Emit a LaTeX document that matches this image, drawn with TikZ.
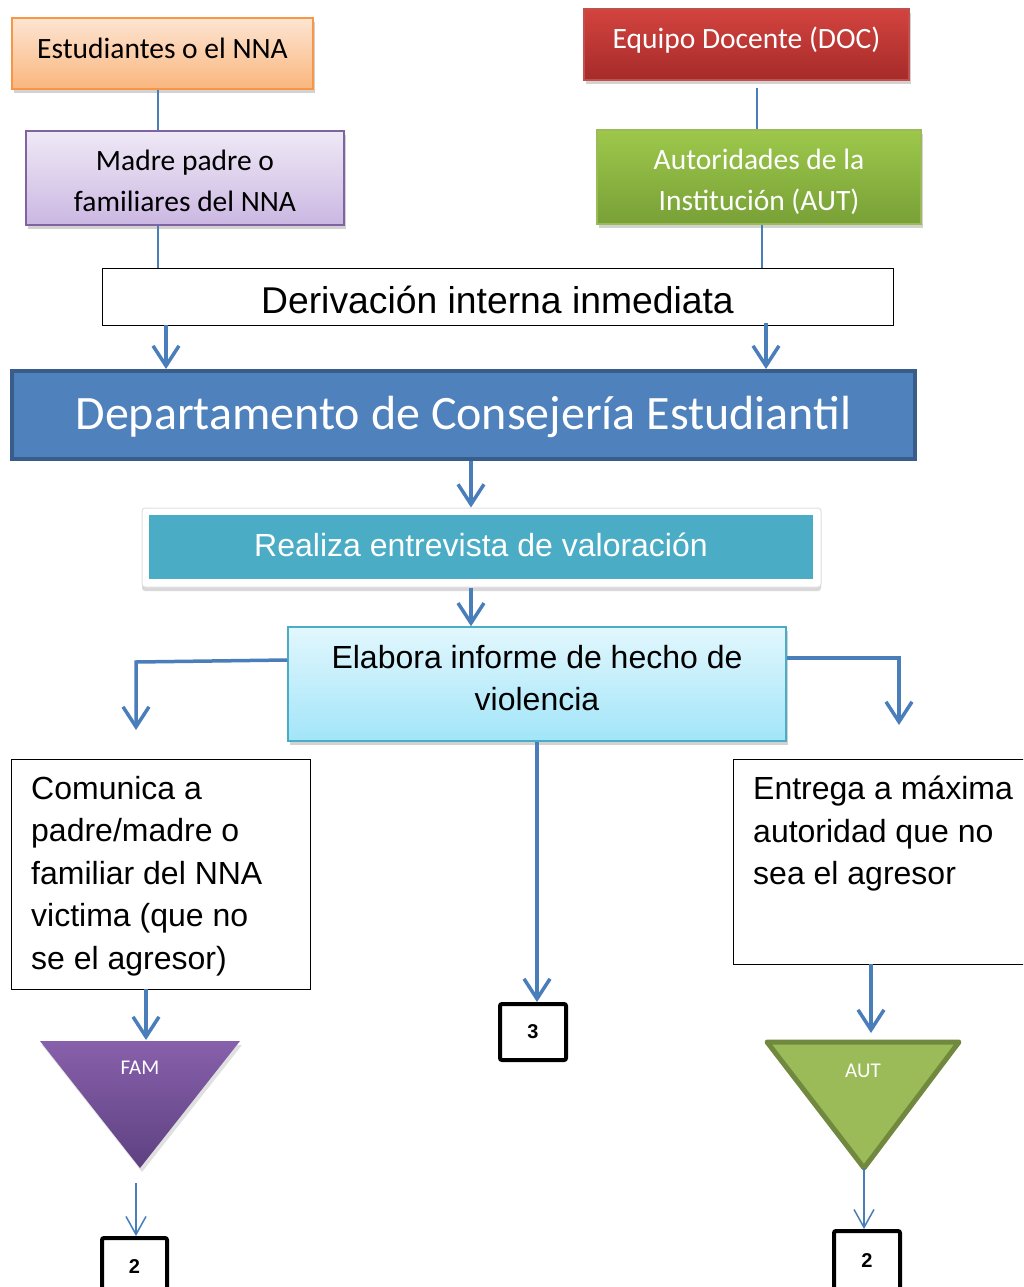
\documentclass[tikz,border=0pt]{standalone}
\usepackage{fontspec}
\setmainfont{Carlito}
\newfontfamily\arialf{Liberation Sans}
\usetikzlibrary{arrows.meta,shadows,calc}
\definecolor{lineblue}{HTML}{4A7EBB}
\definecolor{orTop}{HTML}{FDE5D2}
\definecolor{orBot}{HTML}{FAB67E}
\definecolor{orBrd}{HTML}{F79646}
\definecolor{puTop}{HTML}{EFE9F6}
\definecolor{puBot}{HTML}{CBB7E2}
\definecolor{puBrd}{HTML}{8064A2}
\definecolor{rdTop}{HTML}{D3433F}
\definecolor{rdBot}{HTML}{A52B29}
\definecolor{rdBrd}{HTML}{C0504D}
\definecolor{gnTop}{HTML}{9DC84B}
\definecolor{gnBot}{HTML}{78A037}
\definecolor{gnBrd}{HTML}{9BBB59}
\definecolor{deptFill}{HTML}{4F81BD}
\definecolor{deptBrd}{HTML}{385D8A}
\definecolor{teal}{HTML}{4BACC6}
\definecolor{cyTop}{HTML}{E2F7FD}
\definecolor{cyBot}{HTML}{A2E5F9}
\definecolor{famTop}{HTML}{8760AB}
\definecolor{famBot}{HTML}{5E4181}
\definecolor{autFill}{HTML}{9BBB59}
\definecolor{autBrd}{HTML}{71893F}
\begin{document}
\begin{tikzpicture}[x=1pt,y=-1pt,
  gbox/.style={rectangle, inner sep=0pt, align=center, drop shadow={opacity=0.35, shadow xshift=2pt, shadow yshift=-4pt}},
  txt/.style={inner sep=0pt, align=center},
  conn/.style={draw=lineblue, line width=1.5pt},
  flow/.style={draw=lineblue, line width=3.5pt, -{Straight Barb[length=20pt,width=26pt]}},
  thinflow/.style={draw=lineblue, line width=1.5pt, -{Straight Barb[length=18pt,width=20pt]}},
  plainbox/.style={rectangle, draw=black, line width=0.8pt, fill=white, inner sep=0pt},
  numbox/.style={rectangle, draw=black, line width=4pt, rounded corners=2pt, fill=white, inner sep=0pt, font=\arialf\bfseries\fontsize{20}{22}\selectfont}
]
\clip (0,0) rectangle (1023,1287);
\fill[white] (0,0) rectangle (1023,1287);

% top left
\node[gbox, draw=orBrd, line width=1.5pt, top color=orTop, bottom color=orBot, minimum width=301pt, minimum height=71pt] (estud) at (162.5,53.5) {};
\node[txt, font=\fontsize{29.5}{40}\selectfont] (estudtxt) at (162.5,48) {Estudiantes o el NNA};
\node[gbox, draw=puBrd, line width=1.5pt, top color=puTop, bottom color=puBot, minimum width=318pt, minimum height=94pt] (madre) at (185,178) {};
\node[txt, font=\fontsize{29.5}{40.5}\selectfont] (madretxt) at (185,181) {Madre padre o\\familiares del NNA};
% top right
\node[gbox, draw=rdBrd, line width=1.5pt, top color=rdTop, bottom color=rdBot, minimum width=325pt, minimum height=71pt] (equipo) at (746.5,44.5) {};
\node[txt, text=white, font=\fontsize{29.5}{40}\selectfont] (equipotxt) at (746.5,40) {Equipo Docente (DOC)};
\node[gbox, draw=gnBrd, line width=1.5pt, top color=gnTop, bottom color=gnBot, minimum width=324pt, minimum height=94pt] (autor) at (759,177) {};
\node[txt, text=white, font=\fontsize{29.5}{40.5}\selectfont] (autortxt) at (759,182) {Autoridades de la\\Instituci\'on (AUT)};

% derivacion
\node[plainbox, minimum width=791pt, minimum height=57pt] (deriv) at (497.5,296.5) {};
\node[txt, font=\arialf\fontsize{37.3}{40}\selectfont] (derivtxt) at (497.5,300) {Derivación interna inmediata};

% departamento
\node[rectangle, draw=deptBrd, line width=4pt, fill=deptFill, minimum width=903pt, minimum height=88pt, inner sep=0pt] (dept) at (463.5,415) {};
\node[txt, text=white, font=\fontsize{48}{50}\selectfont] (depttxt) at (463.5,417) {Departamento de Consejería Estudiantil};

% realiza
\node[rectangle, fill=white, draw=black!12, line width=1pt, minimum width=679pt, minimum height=79pt, rounded corners=3pt,
  drop shadow={opacity=0.3, shadow xshift=0pt, shadow yshift=-4pt}] (realouter) at (481.5,547.5) {};
\node[rectangle, fill=teal, minimum width=664pt, minimum height=64pt, inner sep=0pt] (realiza) at (481,547) {};
\node[txt, text=white, font=\arialf\fontsize{32}{36}\selectfont] (realizatxt) at (481,545) {Realiza entrevista de valoración};

% elabora
\node[gbox, draw=teal, line width=1.5pt, top color=cyTop, bottom color=cyBot, minimum width=498pt, minimum height=114pt] (elabora) at (537,684) {};
\node[txt, font=\arialf\fontsize{32}{42}\selectfont] (elaboratxt) at (537,678) {Elabora informe de hecho de\\violencia};

% comunica
\node[plainbox, minimum width=299pt, minimum height=230pt] (comunica) at (160.5,874) {};
\node[anchor=north west, inner sep=0pt, align=left, font=\arialf\fontsize{32}{42.5}\selectfont] (comunicatxt) at (31,776)
  {Comunica a\\padre/madre o\\familiar del NNA\\victima (que no\\se el agresor)};

% entrega
\node[plainbox, minimum width=297pt, minimum height=205pt] (entrega) at (881.5,861.5) {};
\node[anchor=north west, inner sep=0pt, align=left, font=\arialf\fontsize{32}{42.5}\selectfont] (entregatxt) at (753,776)
  {Entrega a máxima\\autoridad que no\\sea el agresor};

% number boxes
\node[numbox, minimum width=66pt, minimum height=56pt] (tres) at (533,1032) {3};
\node[numbox, minimum width=65pt, minimum height=58pt] (dosL) at (134.5,1267) {2};
\node[numbox, minimum width=66pt, minimum height=60pt] (dosR) at (867,1261) {2};

% triangles
\coordinate (famA) at (40,1041);
\coordinate (famB) at (240,1041);
\coordinate (famC) at (140,1168);
\fill[black, opacity=0.12] ($(famA)+(2,4)$) -- ($(famB)+(2,4)$) -- ($(famC)+(2,4)$) -- cycle;
\shade[top color=famTop, bottom color=famBot] (famA) -- (famB) -- (famC) -- cycle;
\node[text=white, font=\fontsize{21}{24}\selectfont] (fam) at (140,1068) {FAM};

\coordinate (autA) at (767,1042);
\coordinate (autB) at (959,1042);
\coordinate (autC) at (864,1168);
\draw[fill=autFill, draw=autBrd, line width=5pt, line join=round] (autA) -- (autB) -- (autC) -- cycle;
\node[text=white, font=\fontsize{21}{24}\selectfont] (aut) at (863,1071) {AUT};

% connectors top
\draw[conn] (estud.south -| 158,0) -- (madre.north -| 158,0);
\draw[conn] (madre.south -| 158,0) -- (deriv.north -| 158,0);
\draw[conn] (equipo.south -| 757,0) ++(0,7) -- (autor.north -| 757,0);
\draw[conn] (autor.south -| 762,0) -- (deriv.north -| 762,0);

\draw[flow] (deriv.south -| 166,0) -- (dept.north -| 166,0);
\draw[flow] (deriv.south -| 766,0) ++(0,-2) -- (dept.north -| 766,0);
\draw[flow] (dept.south -| 471,0) -- (realouter.north -| 471,0);
\draw[flow] (realouter.south -| 471,0) -- (elabora.north -| 471,0);

\coordinate (leftEnd) at (136,730);
\coordinate (rightEnd) at (899,725);
\draw[flow, line join=miter] (elabora.west |- 0,660) -- (136,662) -- (leftEnd);
\draw[flow, line join=miter] (elabora.east |- 0,658) -- (899,658) -- (rightEnd);
\draw[flow] (elabora.south) -- (elabora.south |- tres.north);

\draw[flow] (comunica.south -| 146,0) -- (146,1040);
\draw[flow] (entrega.south -| 871,0) -- (871,1033);

\draw[thinflow] (136,1183) -- (dosL.north -| 136,0);
\draw[thinflow] (autC) -- (dosR.north -| 864,0);
\end{tikzpicture}
\end{document}
